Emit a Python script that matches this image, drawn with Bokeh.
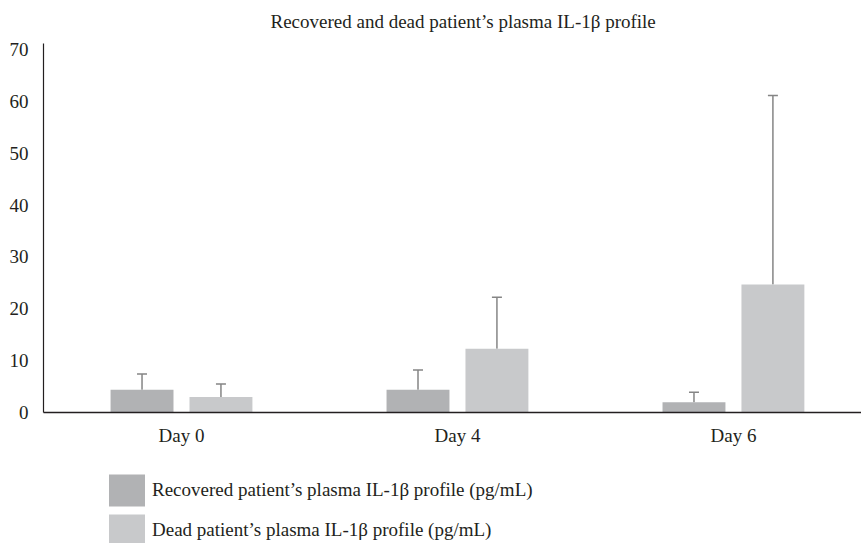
from bokeh.plotting import figure
from bokeh.layouts import column
from bokeh.models import (ColumnDataSource, Range1d, FixedTicker, Whisker, TeeHead,
                          Legend, LegendItem, Title)
from bokeh.embed import file_html
from bokeh.resources import INLINE

# ---- data ----
days = ["Day 0", "Day 4", "Day 6"]
recovered = [4.4, 4.4, 2.0]
recovered_sd = [3.0, 3.8, 1.9]
dead = [3.0, 12.3, 24.7]
dead_sd = [2.5, 9.9, 36.4]
y_ticks = [0, 10, 20, 30, 40, 50, 60, 70]
title_text = "Recovered and dead patient\u2019s plasma IL-1\u03b2 profile"
label_recovered = "Recovered patient\u2019s plasma IL-1\u03b2 profile (pg/mL)"
label_dead = "Dead patient\u2019s plasma IL-1\u03b2 profile (pg/mL)"

# ---- style ----
FONT = "Liberation Serif"
FS = "19px"
TXT = "#231f20"
C_REC = "#b1b2b4"
C_DEAD = "#c8c9cb"
C_ERR = "#858585"
OFF = 0.143
BW = 0.228

idx = list(range(len(days)))
src_rec = ColumnDataSource(dict(
    x=[i - OFF for i in idx], top=recovered,
    upper=[v + e for v, e in zip(recovered, recovered_sd)]))
src_dead = ColumnDataSource(dict(
    x=[i + OFF for i in idx], top=dead,
    upper=[v + e for v, e in zip(dead, dead_sd)]))

p = figure(width=861, height=460, output_backend="svg", toolbar_location=None,
           x_range=Range1d(-0.5, 2.464), y_range=Range1d(0, 71.15),
           min_border_left=43, min_border_right=0, min_border_top=42,
           min_border_bottom=48, title=None)
p.outline_line_color = None
p.xgrid.visible = False
p.ygrid.visible = False
p.background_fill_color = "white"
p.border_fill_color = "white"

p.vbar(x="x", top="top", width=BW, source=src_rec, fill_color=C_REC, line_color=None)
p.vbar(x="x", top="top", width=BW, source=src_dead, fill_color=C_DEAD, line_color=None)

for src in (src_rec, src_dead):
    w = Whisker(base="x", lower="top", upper="upper", source=src, dimension="height",
                line_color=C_ERR, line_width=1.5,
                upper_head=TeeHead(size=10, line_color=C_ERR, line_width=1.5),
                lower_head=None)
    p.add_layout(w)

# axes
p.xaxis.ticker = FixedTicker(ticks=idx)
p.xaxis.major_label_overrides = {i: d for i, d in zip(idx, days)}
p.yaxis.ticker = FixedTicker(ticks=y_ticks)
for ax in (p.xaxis, p.yaxis):
    ax.major_tick_line_color = None
    ax.minor_tick_line_color = None
    ax.major_tick_out = 0
    ax.major_tick_in = 0
    ax.axis_line_color = TXT
    ax.major_label_text_font = FONT
    ax.major_label_text_font_size = FS
    ax.major_label_text_color = TXT
p.xaxis.axis_line_width = 1.6
p.yaxis.axis_line_width = 1.2
p.xaxis.major_label_standoff = 12
p.yaxis.major_label_standoff = 15

# title
p.add_layout(Title(text=title_text, align="left", offset=227, standoff=20,
                   vertical_align="top",
                   text_font=FONT, text_font_size=FS, text_font_style="normal",
                   text_color=TXT), "above")

# ---- legend strip (separate figure, no axes); the bar renderers reuse the
# real sources but sit outside this figure's visible range ----
pl = figure(width=861, height=83, output_backend="svg", toolbar_location=None,
            x_range=p.x_range, y_range=Range1d(500, 501),
            x_axis_location=None, y_axis_location=None, title=None,
            min_border_left=43, min_border_right=0, min_border_top=0,
            min_border_bottom=0)
pl.outline_line_color = None
pl.xgrid.visible = False
pl.ygrid.visible = False
pl.background_fill_color = "white"
pl.border_fill_color = "white"
lr1 = pl.vbar(x="x", top="top", width=BW, source=src_rec,
              fill_color=C_REC, line_color=None)
lr2 = pl.vbar(x="x", top="top", width=BW, source=src_dead,
              fill_color=C_DEAD, line_color=None)

legend = Legend(items=[LegendItem(label=label_recovered, renderers=[lr1]),
                       LegendItem(label=label_dead, renderers=[lr2])],
                location=(61, -7), orientation="vertical",
                glyph_width=45, glyph_height=40, spacing=0, padding=0, margin=0,
                border_line_color=None, background_fill_alpha=0,
                label_text_font=FONT, label_text_font_size=FS,
                label_text_color=TXT, label_standoff=3)
pl.add_layout(legend)

open("out.html", "w").write(file_html(column(p, pl, spacing=0), INLINE))
